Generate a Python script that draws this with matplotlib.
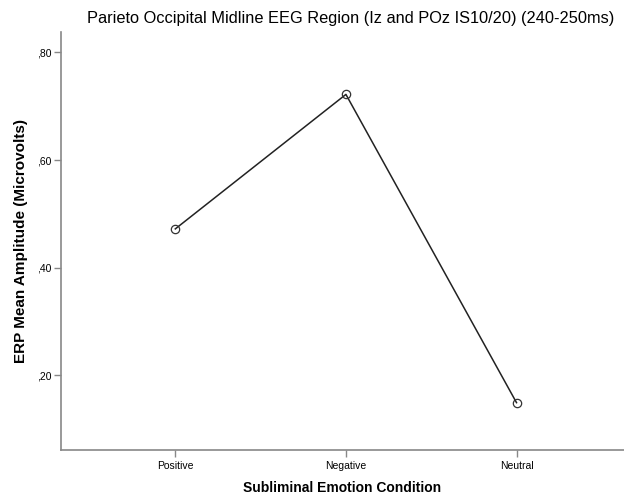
import matplotlib
matplotlib.use("Agg")
import matplotlib.pyplot as plt
from matplotlib.ticker import FuncFormatter

conditions = ["Positive", "Negative", "Neutral"]
mean_amplitude = [0.472, 0.722, 0.149]
y_ticks = [0.2, 0.4, 0.6, 0.8]

plt.rcParams['font.family'] = ['Liberation Sans', 'DejaVu Sans']

fig = plt.figure(figsize=(6.24, 4.97), dpi=100)
ax = fig.add_axes([61 / 624, 47 / 497, (624 - 61) / 624, (450 - 32) / 497])

x = range(len(conditions))
ax.plot(x, mean_amplitude, color='#222222', lw=1.1, marker='o', ms=6,
        mfc='none', mec='#333333', mew=0.9)

ax.set_xlim(-0.67, 2.63)
ax.set_ylim(0.061, 0.838)
ax.set_xticks(list(x))
ax.set_xticklabels(conditions, fontsize=7.5)
ax.set_yticks(y_ticks)
# SPSS-style decimal comma without leading zero
ax.yaxis.set_major_formatter(FuncFormatter(lambda v, p: ("%.2f" % v)[1:].replace('.', ',')))
ax.tick_params(axis='y', labelsize=7.5, length=5, width=1, color='#888888', pad=2)
ax.tick_params(axis='x', length=5, width=1, color='#888888', pad=3)

for side in ['top', 'right']:
    ax.spines[side].set_visible(False)
for side in ['left', 'bottom']:
    ax.spines[side].set_color('#888888')
    ax.spines[side].set_linewidth(1.2)

ax.set_xlabel("Subliminal Emotion Condition", fontsize=10, fontweight='bold', labelpad=7)
ax.set_ylabel("ERP Mean Amplitude (Microvolts)", fontsize=11, fontweight='bold', labelpad=6)
fig.text(351 / 624, 1 - 18 / 497, "Parieto Occipital Midline EEG Region (Iz and POz IS10/20) (240-250ms)",
         ha='center', va='center', fontsize=11.8, fontweight='medium')

fig.savefig("out.png", dpi=100)
